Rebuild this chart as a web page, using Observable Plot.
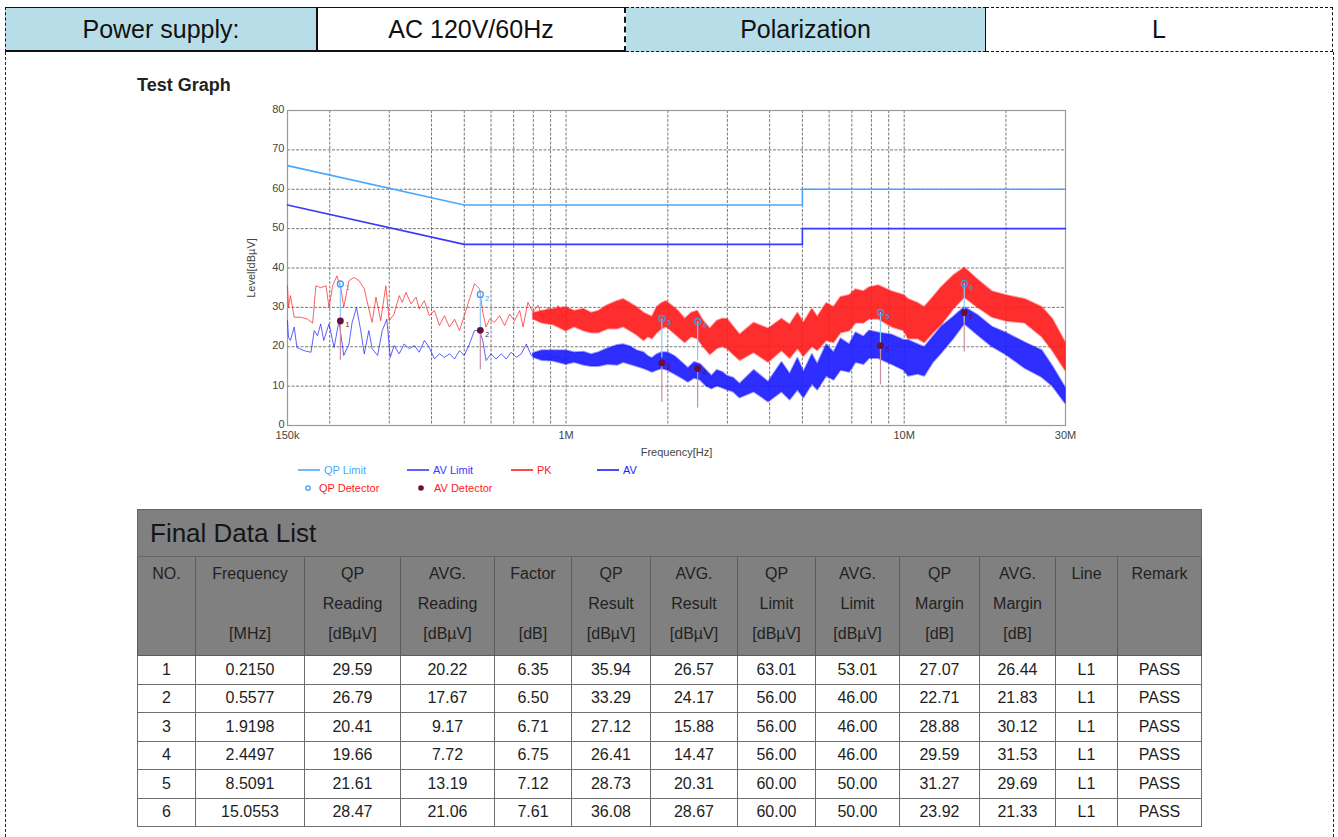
<!DOCTYPE html>
<html><head><meta charset="utf-8">
<script src="https://cdn.jsdelivr.net/npm/d3@7"></script>
<script src="https://cdn.jsdelivr.net/npm/@observablehq/plot@0.6"></script>
<style>
body{margin:0;background:#fff;font-family:"Liberation Sans",Arial,sans-serif;}
#page{position:relative;width:1338px;height:837px;overflow:hidden;background:#fff;}
#hdr{position:absolute;left:5px;top:7px;height:45px;display:flex;}
#hdr div{box-sizing:border-box;height:45px;display:flex;align-items:center;justify-content:center;font-size:25px;color:#111;}
.frameL{position:absolute;left:5px;top:52px;bottom:-10px;border-left:1px dashed #222;}
.frameR{position:absolute;left:1333px;top:52px;bottom:-10px;border-left:1px dashed #222;}
#tg{position:absolute;left:137px;top:75px;font-size:18px;font-weight:bold;color:#222;}
#chart{position:absolute;left:200px;top:95px;}
.lg{position:absolute;font-size:11px;display:flex;align-items:center;white-space:nowrap;}
.lg svg{margin-right:4px;}
table{position:absolute;left:137px;top:509px;width:1064px;border-collapse:collapse;table-layout:fixed;color:#1e1e1e;}
td{padding:0;}
tr.title td{background:#808080;height:46px;font-size:26px;text-align:left;padding-left:12px;border:1px solid #666;color:#151515;}
tr.head td{background:#808080;height:96px;vertical-align:top;text-align:center;border:1px solid #5c5c5c;line-height:30px;padding-top:2px;font-size:16px;color:#222;}
tr.data td{height:27.5px;text-align:center;border:1px solid #6e6e6e;font-size:16px;}
</style></head><body><div id="page">
<div id="hdr"></div>
<div class="frameL"></div><div class="frameR"></div>
<div id="tg">Test Graph</div>
<div id="chart"></div>
<div id="legend"></div>
<table id="tbl"></table>
</div>
<script>
// ---------- header ----------
const headerLabels = ["Power supply:", "AC 120V/60Hz", "Polarization", "L"];

// ---------- chart axes ----------
const xTicks = [0.15, 1, 10, 30];
const xTickLabels = ["150k", "1M", "10M", "30M"];
const xGrid = [0.2,0.3,0.4,0.5,0.6,0.7,0.8,0.9,1,2,3,4,5,6,7,8,9,10,20];
const yTicks = [0,10,20,30,40,50,60,70,80];

// ---------- limits (MHz, dBuV) ----------
const qpLimitFreq = [0.15, 0.5, 5, 5, 30];
const qpLimitLevel = [66, 56, 56, 60, 60];
const avLimitFreq = [0.15, 0.5, 5, 5, 30];
const avLimitLevel = [56, 46, 46, 50, 50];

// ---------- PK trace, low-frequency part ----------
const pkLowFreq = [0.150,0.151,0.153,0.157,0.164,0.172,0.178,0.182,0.188,0.195,0.199,0.204,0.210,0.216,0.220,0.228,0.236,0.244,0.253,0.261,0.267,0.274,0.283,0.293,0.300,0.310,0.321,0.328,0.336,0.348,0.360,0.368,0.381,0.394,0.408,0.422,0.437,0.452,0.468,0.484,0.500,0.518,0.536,0.555,0.567,0.580,0.594,0.614,0.636,0.658,0.681,0.704,0.729,0.746,0.771,0.798,0.826,0.855,0.884,0.915,0.947,0.980,1.014];
const pkLowLevel = [35.5,30,33,27.5,27.5,27,26,35.5,35,35.5,30,35.5,38,34.7,30,36.8,37.6,36.8,34.7,29.6,26.2,32.6,26.6,35.5,26.6,28.3,33,31.3,33.8,30.9,32.6,29.6,31.7,27.9,29.2,25.4,27.9,25,27,24.1,27.9,32.1,36,34.7,28.8,25,27,26.2,27.9,25.4,28.3,26.6,29.2,25,31.3,28.8,30.5,27,30,28.3,30.5,27.5,29.2];

// ---------- AV trace, low-frequency part ----------
const avLowFreq = [0.150,0.151,0.153,0.157,0.160,0.168,0.176,0.180,0.184,0.188,0.192,0.199,0.206,0.213,0.220,0.228,0.233,0.240,0.247,0.253,0.261,0.267,0.277,0.286,0.295,0.302,0.310,0.321,0.332,0.344,0.356,0.368,0.381,0.394,0.408,0.422,0.437,0.452,0.468,0.484,0.500,0.518,0.536,0.555,0.567,0.580,0.600,0.621,0.643,0.665,0.688,0.712,0.737,0.763,0.789,0.817,0.845,0.874,0.905,0.936,0.980,1.014];
const avLowLevel = [26.6,22.4,21.6,25,19.8,19,18.6,24.1,22.8,25.8,21.6,25.8,19.8,26.6,17.8,20.7,26.2,30,24.1,18.2,24.1,19.5,17.8,24.1,27,17.3,20.3,18.2,20.7,19.5,20.3,18.6,21.6,19.8,16.9,18.2,17.3,18.2,16.9,19,17.8,20.7,24.1,24.1,21.6,16.5,18.2,16.9,18.2,16.9,18.6,17.3,18.2,20.7,17.8,18.6,17.3,18.2,16.9,17.8,16.5,17.3];

// ---------- PK trace, dense part (band min / max) ----------
const pkBandFreq = [0.8,0.85,0.92,1.0,1.06,1.13,1.19,1.25,1.33,1.42,1.48,1.55,1.62,1.7,1.75,1.8,1.86,1.92,1.98,2.05,2.15,2.25,2.35,2.45,2.55,2.67,2.8,2.9,3.0,3.13,3.27,3.6,3.97,4.35,4.6,4.85,5.05,5.35,5.55,5.9,6.2,6.5,6.9,7.2,7.6,7.9,8.4,9.2,10.0,10.3,11.0,11.5,12.2,12.9,14.0,15.1,16.5,18.2,20,22.8,25.6,27.5,30];
const pkBandMin = [27,26,25.5,24,25,24,23.5,23.5,24.5,24.5,25,24,23,21.5,22.5,22,23.5,24.5,25,24,22.5,21,22.5,22,20,18,19.5,20,19.5,18,16.5,18.5,16,19,17,19.5,17.5,20,19,21.5,21,23.5,24,26,26,27,27,25,24,22,22,21,23.5,25.5,29.5,32.5,30,27.5,26.5,26,22.5,19,14];
const pkBandMax = [28.5,29,29.5,30,29,29.5,28.5,29,30.5,31.5,32,31,30,28.5,28,27.5,30,31,31.5,30.5,29,27,28.5,29,26.5,24.5,26.5,27,27,25,23,26,24.5,27,25.5,28.5,26,29.5,27.5,31,30,32.5,33,34.5,34,35,35.5,34,33,32,31,30,32.5,35,38,40,37,34,33,32,30,27,21];

// ---------- AV trace, dense part (band min / max) ----------
const avBandFreq = [0.8,0.85,0.92,1.0,1.06,1.13,1.19,1.25,1.33,1.42,1.48,1.55,1.62,1.7,1.75,1.8,1.86,1.92,2.0,2.1,2.2,2.3,2.4,2.5,2.6,2.7,2.8,2.9,3.0,3.13,3.27,3.6,3.97,4.35,4.6,4.85,5.05,5.35,5.55,5.9,6.2,6.5,6.9,7.2,7.6,7.9,8.4,9.2,10.0,10.3,11.0,11.5,12.2,12.9,14.0,15.1,16.5,18.2,20,22.8,25.6,27.5,30];
const avBandMin = [17.3,16.5,16.3,15.5,16,15.3,15,15,15.5,15.3,16,15.5,15,14.4,14,13.5,14,14.4,14,13,12,11,12,11.5,10,9.3,10,9.5,9,8.5,7,8.5,6,8.5,6.5,9,7,10.5,9,12.5,11.5,14,13.5,16,15.5,17,17,15.5,14,12.5,13,12.5,16,18.3,22,25.8,23,20,18,14.5,12.2,10,5.6];
const avBandMax = [18.3,19,19,19,18.5,18.6,18,18.5,19.5,20.3,20.5,20,19,18.5,17.5,17,18,18.5,18.5,17.5,16,14.5,16,15.5,14,12.5,14,13.5,12.5,12,10.5,14,11,16,13,17,13.5,18,15.5,20.5,18.5,22,20.5,23.5,22.5,24,23.5,23,21.6,21.6,20.5,19.8,22.5,25,27.5,30,28,25,23.5,21,19,15,9.6];

// ---------- final data list ----------
const finalNo = [1,2,3,4,5,6];
const finalFreq = ["0.2150","0.5577","1.9198","2.4497","8.5091","15.0553"];
const qpReading = ["29.59","26.79","20.41","19.66","21.61","28.47"];
const avReading = ["20.22","17.67","9.17","7.72","13.19","21.06"];
const factorDb = ["6.35","6.50","6.71","6.75","7.12","7.61"];
const qpResult = ["35.94","33.29","27.12","26.41","28.73","36.08"];
const avResult = ["26.57","24.17","15.88","14.47","20.31","28.67"];
const qpLimit = ["63.01","56.00","56.00","56.00","60.00","60.00"];
const avLimit = ["53.01","46.00","46.00","46.00","50.00","50.00"];
const qpMargin = ["27.07","22.71","28.88","29.59","31.27","23.92"];
const avMargin = ["26.44","21.83","30.12","31.53","29.69","21.33"];
const lineName = ["L1","L1","L1","L1","L1","L1"];
const remark = ["PASS","PASS","PASS","PASS","PASS","PASS"];

const headTop = ["NO.","Frequency","QP","AVG.","Factor","QP","AVG.","QP","AVG.","QP","AVG.","Line","Remark"];
const headMid = ["","","Reading","Reading","","Result","Result","Limit","Limit","Margin","Margin","",""];
const headUnit = ["","[MHz]","[dBµV]","[dBµV]","[dB]","[dBµV]","[dBµV]","[dBµV]","[dBµV]","[dB]","[dB]","",""];

// ---------- colours ----------
const C = {qpLim:"#4aa8ff", avLim:"#3a3aff", pk:"#ff1c1c", av:"#1c1cff", qpDet:"#3d9cf0", avDet:"#6a0f35"};

// ---------- header row ----------
(function(){
  const widths = [313,308,360,347];
  const bgs = ["#b7dee8","#fff","#b7dee8","#fff"];
  const borders = [
    "border-top:1px solid #111;border-bottom:2px solid #111;border-left:1px dashed #111;border-right:2px solid #111;",
    "border-top:1px solid #111;border-bottom:2px solid #111;border-right:2px dashed #111;",
    "border-top:1px dashed #111;border-bottom:1px dashed #111;border-right:1px solid #111;",
    "border-top:1px dashed #111;border-bottom:1px dashed #111;border-right:1px dashed #111;"
  ];
  const h = document.getElementById("hdr");
  headerLabels.forEach((t,i)=>{
    const d = document.createElement("div");
    d.style.cssText = `width:${widths[i]}px;background:${bgs[i]};${borders[i]}`;
    d.textContent = t; h.appendChild(d);
  });
})();

// ---------- chart ----------
const zip2 = (f,v) => f.map((x,i)=>({f:x, v:v[i]}));
const zip3 = (f,a,b) => f.map((x,i)=>({f:x, lo:a[i], hi:b[i]}));
const qpLim = zip2(qpLimitFreq, qpLimitLevel);
const avLim = zip2(avLimitFreq, avLimitLevel);
const pkLow = zip2(pkLowFreq, pkLowLevel);
const avLow = zip2(avLowFreq, avLowLevel);
const pkBand = zip3(pkBandFreq, pkBandMin, pkBandMax);
const avBand = zip3(avBandFreq, avBandMin, avBandMax);
const det = finalNo.map((n,i)=>({n, f:+finalFreq[i], qp:+qpResult[i], av:+avResult[i]}));
const xFmt = d => xTickLabels[xTicks.findIndex(t => Math.abs(t-d) < 1e-9)];

const chart = Plot.plot({
  width: 895, height: 375,
  marginLeft: 87, marginRight: 30, marginTop: 15, marginBottom: 45,
  style: {fontFamily: "Liberation Sans, Arial, sans-serif", fontSize: "11px", color: "#444", background: "transparent", overflow: "visible"},
  x: {type: "log", domain: [0.15, 30]},
  y: {domain: [0, 80]},
  marks: [
    Plot.ruleX(xGrid, {stroke: "#6a6a6a", strokeDasharray: "3,1.5", strokeWidth: 0.9}),
    Plot.ruleY(yTicks, {stroke: "#6a6a6a", strokeDasharray: "3,1.5", strokeWidth: 0.9}),
    Plot.frame({stroke: "#9a9a9a", strokeWidth: 1.2}),
    Plot.axisX(xTicks, {tickFormat: xFmt, tickSize: 0, tickPadding: 6, label: "Frequency[Hz]", labelAnchor: "center", labelArrow: "none", labelOffset: 30}),
    Plot.axisY(yTicks, {tickSize: 0, tickPadding: 3, dy: -1, label: "Level[dBµV]", labelAnchor: "center", labelArrow: "none", labelOffset: 40}),
    Plot.line(qpLim, {x: "f", y: "v", stroke: C.qpLim, strokeWidth: 1.6}),
    Plot.line(avLim, {x: "f", y: "v", stroke: C.avLim, strokeWidth: 1.6}),
    Plot.line(pkLow, {x: "f", y: "v", stroke: C.pk, strokeWidth: 1, strokeOpacity: 0.7}),
    Plot.areaY(pkBand, {x: "f", y1: "lo", y2: "hi", fill: C.pk, fillOpacity: 0.92, stroke: C.pk, strokeOpacity: 0.45, strokeWidth: 2}),
    Plot.line(avLow, {x: "f", y: "v", stroke: C.av, strokeWidth: 1, strokeOpacity: 0.7}),
    Plot.areaY(avBand, {x: "f", y1: "lo", y2: "hi", fill: C.av, fillOpacity: 0.92, stroke: C.av, strokeOpacity: 0.45, strokeWidth: 2}),
    Plot.ruleX(det, {x: "f", y1: "qp", y2: d => d.qp - 10, stroke: "#8cc8ff", strokeWidth: 1.2}),
    Plot.ruleX(det, {x: "f", y1: "av", y2: d => d.av - 10, stroke: "#c9909f", strokeWidth: 1.2}),
    Plot.dot(det, {x: "f", y: "qp", r: 3, stroke: C.qpDet, strokeWidth: 1.3, fill: "none"}),
    Plot.dot(det, {x: "f", y: "av", r: 3.4, fill: C.avDet, stroke: "none"}),
    Plot.text(det, {x: "f", y: "qp", text: "n", dx: 7, dy: 4, fontSize: 7, fill: C.qpDet}),
    Plot.text(det, {x: "f", y: "av", text: "n", dx: 7, dy: 4, fontSize: 7, fill: C.avDet})
  ]
});
document.getElementById("chart").appendChild(chart);

// ---------- legend ----------
(function(){
  const items = [
    {t:"QP Limit", c:C.qpLim, tc:C.qpLim, k:"line", x:298, y:464},
    {t:"AV Limit", c:C.avLim, tc:C.avLim, k:"line", x:407, y:464},
    {t:"PK", c:C.pk, tc:C.pk, k:"line", x:511, y:464},
    {t:"AV", c:C.av, tc:C.av, k:"line", x:597, y:464},
    {t:"QP Detector", c:C.qpDet, tc:C.pk, k:"ring", x:303, y:482},
    {t:"AV Detector", c:C.avDet, tc:C.pk, k:"dot", x:416, y:482}
  ];
  const L = document.getElementById("legend");
  items.forEach(it=>{
    const d = document.createElement("div");
    d.className = "lg";
    d.style.left = it.x+"px"; d.style.top = it.y+"px"; d.style.color = it.tc;
    let sw;
    if (it.k==="line") sw = `<svg width="22" height="12"><line x1="0" y1="6" x2="22" y2="6" stroke="${it.c}" stroke-width="1.6"/></svg>`;
    else if (it.k==="ring") sw = `<svg width="12" height="12"><circle cx="5" cy="6" r="2.2" fill="none" stroke="${it.c}" stroke-width="1.3"/></svg>`;
    else sw = `<svg width="14" height="12"><circle cx="5" cy="6" r="2.8" fill="${it.c}"/></svg>`;
    d.innerHTML = sw + `<span>${it.t}</span>`;
    L.appendChild(d);
  });
})();

// ---------- table ----------
(function(){
  const colW = [58,109,96,94,77,79,87,78,84,80,76,62,84];
  const tbl = document.getElementById("tbl");
  let html = "<colgroup>" + colW.map(w=>`<col style="width:${w}px">`).join("") + "</colgroup>";
  html += `<tr class="title"><td colspan="13">Final Data List</td></tr>`;
  html += `<tr class="head">` + headTop.map((t,i)=>`<td>${t}<br>${headMid[i]||"&nbsp;"}<br>${headUnit[i]||"&nbsp;"}</td>`).join("") + `</tr>`;
  finalNo.forEach((n,i)=>{
    const cells = [n, finalFreq[i], qpReading[i], avReading[i], factorDb[i], qpResult[i], avResult[i], qpLimit[i], avLimit[i], qpMargin[i], avMargin[i], lineName[i], remark[i]];
    html += `<tr class="data">` + cells.map(c=>`<td>${c}</td>`).join("") + `</tr>`;
  });
  tbl.innerHTML = html;
})();
</script>
</body></html>
